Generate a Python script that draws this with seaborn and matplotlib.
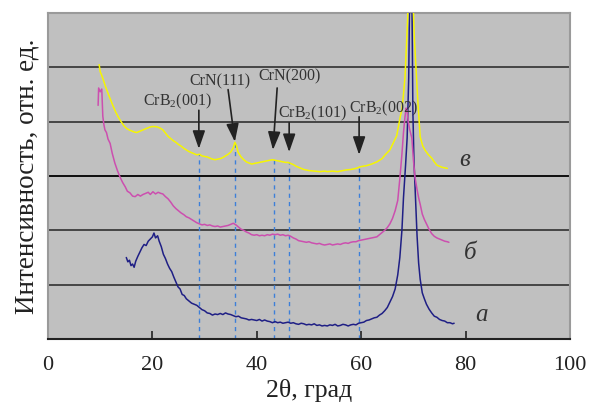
import numpy as np
import pandas as pd
import matplotlib
matplotlib.use("Agg")
import matplotlib.pyplot as plt
import seaborn as sns

# ---- data ----
x_a = [15.0, 15.3, 15.6, 15.9, 16.2, 16.5, 16.8, 17.2, 17.6, 18.0, 18.4, 18.8, 19.2, 19.6, 20.0, 20.3, 20.6, 21.0,
       21.3, 21.7, 22.1, 22.5, 22.9, 23.3, 23.7, 24.1, 24.5, 24.9, 25.3, 25.7, 26.1, 26.5, 27.0, 27.5, 28.0, 28.5,
       29.0, 29.5, 30.0, 30.5, 31.0, 31.5, 32.0, 32.5, 33.0, 33.5, 34.0, 34.5, 35.0, 35.5, 36.0, 36.5, 37.0, 37.5,
       38.0, 38.5, 39.0, 39.5, 40.0, 40.5, 41.0, 41.5, 42.0, 42.5, 43.0, 43.5, 44.0, 44.5, 45.0, 45.5, 46.0, 46.5,
       47.0, 47.5, 48.0, 48.5, 49.0, 49.5, 50.0, 50.5, 51.0, 51.5, 52.0, 52.5, 53.0, 53.5, 54.0, 54.5, 55.0, 55.5,
       56.0, 56.5, 57.0, 57.5, 58.0, 58.5, 59.0, 59.5, 60.0, 60.5, 61.0, 61.5, 62.0, 62.5, 63.0, 63.5, 64.0, 64.5,
       65.0, 65.5, 66.0, 66.5, 67.0, 67.4, 67.8, 68.1, 68.5, 68.8, 69.1, 69.3, 69.5, 69.7, 69.9, 70.1, 70.4, 70.7,
       71.0, 71.3, 71.7, 72.1, 72.5, 73.0, 73.5, 74.0, 74.5, 75.0, 75.5, 76.0, 76.5, 77.0, 77.5, 77.8]
y_a = [1.50, 1.42, 1.45, 1.35, 1.38, 1.32, 1.43, 1.52, 1.60, 1.68, 1.74, 1.72, 1.80, 1.84, 1.88, 1.95, 1.86, 1.90,
       1.80, 1.70, 1.56, 1.48, 1.38, 1.30, 1.24, 1.14, 1.05, 0.96, 0.92, 0.82, 0.80, 0.74, 0.70, 0.66, 0.64, 0.62,
       0.58, 0.54, 0.52, 0.48, 0.47, 0.44, 0.46, 0.45, 0.47, 0.45, 0.48, 0.46, 0.45, 0.43, 0.41, 0.42, 0.39, 0.38,
       0.37, 0.35, 0.36, 0.35, 0.34, 0.36, 0.33, 0.35, 0.33, 0.32, 0.30, 0.32, 0.30, 0.31, 0.29, 0.30, 0.31, 0.29,
       0.30, 0.28, 0.27, 0.29, 0.28, 0.26, 0.27, 0.26, 0.28, 0.25, 0.26, 0.24, 0.25, 0.24, 0.26, 0.25, 0.27, 0.24,
       0.25, 0.27, 0.26, 0.24, 0.26, 0.27, 0.26, 0.29, 0.30, 0.31, 0.34, 0.35, 0.37, 0.39, 0.40, 0.44, 0.47, 0.52,
       0.58, 0.68, 0.78, 0.92, 1.18, 1.50, 2.00, 2.60, 3.20, 3.70, 4.80, 6.50, 7.00, 6.50, 4.20, 3.30, 2.60, 1.90,
       1.40, 1.10, 0.85, 0.74, 0.64, 0.55, 0.48, 0.42, 0.40, 0.36, 0.34, 0.33, 0.30, 0.30, 0.28, 0.29]

x_b = [9.6, 9.7, 10.0, 10.3, 10.5, 10.7, 10.9, 11.2, 11.5, 11.9, 12.3, 12.8, 13.3, 13.8, 14.3, 14.8, 15.2, 15.7,
       16.2, 16.7, 17.2, 17.7, 18.2, 18.7, 19.2, 19.6, 20.1, 20.6, 21.1, 21.6, 22.0, 22.5, 23.0, 23.5, 24.0, 24.5,
       25.0, 25.5, 26.0, 26.5, 27.0, 27.5, 28.0, 28.5, 29.0, 29.5, 30.0, 30.5, 31.0, 31.5, 32.0, 32.5, 33.0, 33.5,
       34.0, 34.5, 35.0, 35.5, 36.0, 36.5, 37.0, 37.5, 38.0, 38.5, 39.0, 39.5, 40.0, 40.5, 41.0, 41.5, 42.0, 42.5,
       43.0, 43.5, 44.0, 44.5, 45.0, 45.5, 46.0, 46.5, 47.0, 47.5, 48.0, 48.5, 49.0, 49.5, 50.0, 50.5, 51.0, 51.5,
       52.0, 52.5, 53.0, 53.5, 54.0, 54.5, 55.0, 55.5, 56.0, 56.5, 57.0, 57.5, 58.0, 58.5, 59.0, 59.5, 60.0, 60.5,
       61.0, 61.5, 62.0, 62.5, 63.0, 63.5, 64.0, 64.5, 65.0, 65.5, 66.0, 66.5, 67.0, 67.4, 67.8, 68.1, 68.4, 68.6,
       68.8, 69.0, 69.3, 69.7, 70.0, 70.3, 70.7, 71.0, 71.3, 71.7, 72.1, 72.5, 73.0, 73.5, 74.0, 74.5, 75.0, 75.5,
       76.0, 76.5, 76.8]
y_b = [4.30, 4.62, 4.55, 4.60, 4.10, 3.95, 3.85, 3.80, 3.68, 3.60, 3.42, 3.24, 3.10, 2.98, 2.88, 2.80, 2.72, 2.69,
       2.63, 2.62, 2.66, 2.63, 2.66, 2.68, 2.70, 2.66, 2.71, 2.67, 2.70, 2.68, 2.67, 2.62, 2.58, 2.52, 2.45, 2.40,
       2.36, 2.32, 2.29, 2.25, 2.23, 2.20, 2.17, 2.14, 2.12, 2.10, 2.11, 2.09, 2.10, 2.08, 2.07, 2.08, 2.06, 2.07,
       2.08, 2.09, 2.11, 2.13, 2.10, 2.06, 2.02, 2.00, 1.97, 1.95, 1.92, 1.91, 1.92, 1.90, 1.91, 1.90, 1.92, 1.91,
       1.93, 1.92, 1.93, 1.91, 1.92, 1.90, 1.91, 1.89, 1.86, 1.84, 1.81, 1.80, 1.79, 1.78, 1.79, 1.77, 1.76, 1.75,
       1.76, 1.74, 1.73, 1.74, 1.75, 1.73, 1.74, 1.75, 1.74, 1.76, 1.77, 1.76, 1.78, 1.79, 1.79, 1.81, 1.82, 1.83,
       1.84, 1.85, 1.86, 1.87, 1.88, 1.92, 1.96, 2.00, 2.05, 2.12, 2.22, 2.36, 2.55, 2.95, 3.40, 3.80, 4.10, 4.25,
       4.20, 4.00, 3.85, 3.70, 3.30, 2.98, 2.75, 2.60, 2.48, 2.30, 2.20, 2.12, 2.02, 1.94, 1.89, 1.86, 1.84, 1.82,
       1.80, 1.79, 1.78]

x_c = [9.8, 10.0, 10.3, 10.6, 11.0, 11.5, 12.0, 12.5, 13.0, 13.5, 14.0, 14.5, 15.0, 15.5, 16.0, 16.5, 17.0, 17.5,
       18.0, 18.5, 19.0, 19.5, 20.0, 20.5, 21.0, 21.5, 22.0, 22.5, 23.0, 23.5, 24.0, 24.5, 25.0, 25.5, 26.0, 26.5,
       27.0, 27.5, 28.0, 28.5, 29.0, 29.5, 30.0, 30.5, 31.0, 31.5, 32.0, 32.5, 33.0, 33.5, 34.0, 34.5, 35.0, 35.5,
       35.8, 36.1, 36.4, 37.0, 37.5, 38.0, 38.5, 39.0, 39.5, 40.0, 40.5, 41.0, 41.5, 42.0, 42.5, 43.0, 43.5, 44.0,
       44.5, 45.0, 45.5, 46.0, 46.5, 47.0, 47.5, 48.0, 48.5, 49.0, 49.5, 50.0, 51.0, 52.0, 53.0, 53.5, 54.5, 55.5,
       56.5, 57.0, 58.0, 59.0, 59.8, 61.0, 62.0, 63.0, 64.0, 64.5, 65.0, 65.5, 66.0, 66.5, 66.8, 67.2, 67.5, 67.8,
       68.1, 68.4, 68.7, 68.9, 69.1, 69.3, 69.6, 69.9, 70.2, 70.6, 70.9, 71.3, 71.8, 72.2, 72.8, 73.5, 74.0, 74.5,
       75.0, 75.5, 76.0, 76.5]
y_c = [5.05, 4.92, 4.85, 4.77, 4.65, 4.52, 4.40, 4.28, 4.17, 4.08, 4.00, 3.93, 3.88, 3.85, 3.83, 3.81, 3.80, 3.82,
       3.84, 3.86, 3.88, 3.90, 3.91, 3.91, 3.90, 3.88, 3.85, 3.79, 3.73, 3.69, 3.65, 3.62, 3.58, 3.55, 3.51, 3.48,
       3.45, 3.43, 3.41, 3.39, 3.40, 3.37, 3.36, 3.35, 3.33, 3.31, 3.30, 3.31, 3.32, 3.34, 3.37, 3.40, 3.44, 3.52,
       3.62, 3.56, 3.44, 3.35, 3.30, 3.26, 3.24, 3.22, 3.23, 3.24, 3.25, 3.26, 3.27, 3.28, 3.29, 3.30, 3.29, 3.28,
       3.27, 3.26, 3.25, 3.25, 3.23, 3.21, 3.18, 3.16, 3.14, 3.12, 3.11, 3.10, 3.09, 3.08, 3.09, 3.08, 3.09, 3.08,
       3.10, 3.11, 3.12, 3.14, 3.17, 3.19, 3.22, 3.26, 3.32, 3.38, 3.43, 3.48, 3.58, 3.68, 3.74, 3.95, 4.10, 4.22,
       4.50, 4.83, 5.45, 5.90, 6.50, 7.00, 7.00, 6.30, 5.50, 4.83, 4.30, 3.72, 3.55, 3.48, 3.40, 3.33, 3.26, 3.20,
       3.18, 3.16, 3.15, 3.14]

peak_labels = ["CrB$_\\mathregular{2}$(001)", "CrN(111)", "CrN(200)", "CrB$_\\mathregular{2}$(101)", "CrB$_\\mathregular{2}$(002)"]
peak_pos = [28.9, 35.9, 43.2, 46.2, 59.6]
peak_top = [3.40, 3.60, 3.30, 3.25, 3.17]
label_xy = [(24.8, 4.37), (33.0, 4.74), (46.2, 4.83), (50.7, 4.15), (64.3, 4.25)]
arrow_from = [(28.9, 4.21), (34.5, 4.59), (43.9, 4.62), (46.2, 3.98), (59.6, 4.09)]
arrow_to = [(28.9, 3.50), (35.8, 3.63), (43.1, 3.48), (46.2, 3.44), (59.6, 3.39)]

curve_names = ["а", "б", "в"]
curve_label_xy = [(83.1, 0.44), (80.8, 1.58), (79.9, 3.30)]
x_ticks = [0, 20, 40, 60, 80, 100]

# ---- plotting ----
sns.set_theme(style="white")
plt.rcParams["font.family"] = ["Liberation Serif", "DejaVu Serif"]
plt.rcParams["mathtext.fontset"] = "custom"
plt.rcParams["mathtext.rm"] = "Liberation Serif"

fig = plt.figure(figsize=(5.9, 4.05), dpi=100)
ax = fig.add_axes([48 / 590, 66 / 405, 522 / 590, 326 / 405])
ax.set_facecolor("#c0c0c0")

for yv in [1, 2, 3, 4, 5]:
    ax.axhline(yv, color="black" if yv == 3 else "#3c3c3c", lw=1.3, zorder=1)

ax.vlines(peak_pos, 0, peak_top, colors="#3d7fd9", linestyles=(0, (3, 3)), lw=1.0, zorder=2)

df = pd.concat([
    pd.DataFrame({"x": x_a, "y": y_a, "s": "a"}),
    pd.DataFrame({"x": x_b, "y": y_b, "s": "b"}),
    pd.DataFrame({"x": x_c, "y": y_c, "s": "c"}),
])
palette = {"a": "#1f1f85", "b": "#cc4faf", "c": "#f6f600"}
sns.lineplot(data=df, x="x", y="y", hue="s", palette=palette, sort=False, estimator=None,
             lw=1.1, legend=False, ax=ax, zorder=3)

for lab, (tx, ty) in zip(peak_labels, label_xy):
    ax.text(tx, ty, lab, ha="center", va="center", fontsize=11.5, color="#333333", zorder=5)
for (fx, fy), (tx, ty) in zip(arrow_from, arrow_to):
    ax.annotate("", xy=(tx, ty), xytext=(fx, fy),
                arrowprops=dict(arrowstyle="-|>,head_length=1.1,head_width=0.38", color="#222222",
                                lw=1.2, shrinkA=0, shrinkB=0, mutation_scale=10), zorder=5)

for name, (tx, ty) in zip(curve_names, curve_label_xy):
    ax.text(tx, ty, name, ha="center", va="center", fontsize=18, style="italic", color="#333333", zorder=5)

ax.set_xlim(0, 100)
ax.set_ylim(0, 6)
ax.set_xticks(x_ticks)
ax.set_xticklabels([str(t) for t in x_ticks], fontsize=16, color="#222222")
ax.set_yticks([])
ax.tick_params(axis="x", direction="in", length=6, width=1.2, color="#222222", pad=12, bottom=True)
for side in ["top", "right", "left"]:
    ax.spines[side].set_color("#9a9a9a")
    ax.spines[side].set_linewidth(1.5)
ax.spines["bottom"].set_color("#222222")
ax.spines["bottom"].set_linewidth(1.5)

ax.set_xlabel("2θ, град", fontsize=18.5, color="#222222", labelpad=3)
ax.set_ylabel("Интенсивность, отн. ед.", fontsize=19.5, color="#222222", labelpad=6)

fig.savefig("out.png", dpi=100)
